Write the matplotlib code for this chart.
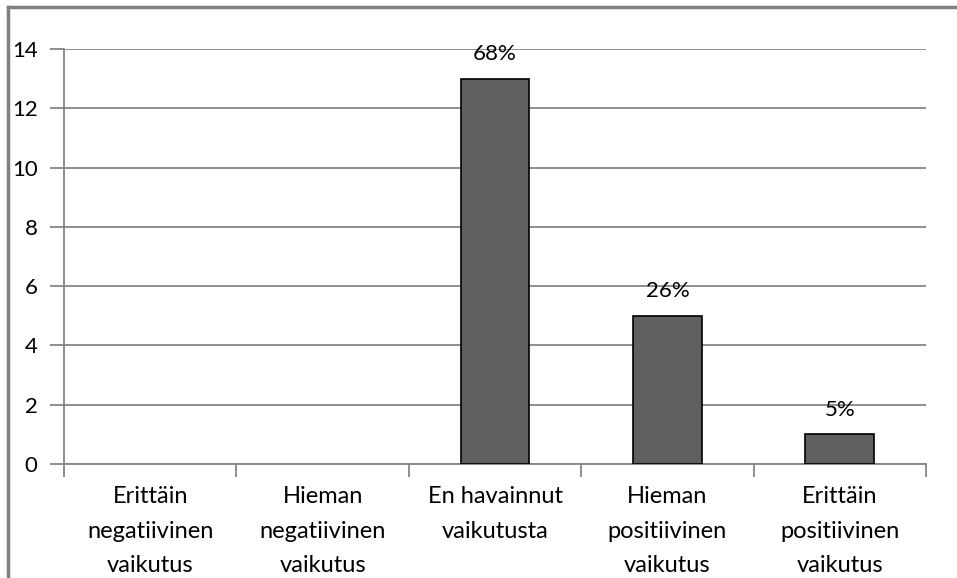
import matplotlib.pyplot as plt
from matplotlib.lines import Line2D

categories = ['Erittäin\nnegatiivinen\nvaikutus', 'Hieman\nnegatiivinen\nvaikutus',
              'En havainnut\nvaikutusta', 'Hieman\npositiivinen\nvaikutus',
              'Erittäin\npositiivinen\nvaikutus']
counts = [0, 0, 13, 5, 1]
pct_labels = ['', '', '68%', '26%', '5%']
y_ticks = [0, 2, 4, 6, 8, 10, 12, 14]

plt.rcParams['font.family'] = ['Lato', 'DejaVu Sans']
grid_c = '#868686'

fig = plt.figure(figsize=(9.57, 5.78), dpi=100)
ax = fig.add_axes([64 / 957, 1 - 464 / 578, (926 - 64) / 957, (464 - 49) / 578])

x = range(len(categories))
bars = ax.bar(x, counts, width=0.4, color='#606060', edgecolor='black', linewidth=1.2, zorder=3)
for b, lab in zip(bars, pct_labels):
    if b.get_height() == 0:
        b.set_linewidth(0)
    if lab:
        ax.text(b.get_x() + b.get_width() / 2, b.get_height() + 0.5, lab,
                ha='center', va='bottom', fontsize=16, color='black')

ax.set_xlim(-0.5, len(categories) - 0.5)
ax.set_ylim(0, 14)
ax.set_yticks(y_ticks)
ax.set_yticklabels([str(v) for v in y_ticks], fontsize=16)
ax.yaxis.grid(True, color=grid_c, linewidth=1.3, zorder=0)
ax.set_axisbelow(True)

ax.set_xticks(list(x))
ax.set_xticklabels(categories, fontsize=17, linespacing=1.8)
ax.set_xticks([i - 0.5 for i in range(len(categories) + 1)], minor=True)
ax.tick_params(axis='x', which='major', length=0, pad=16)
ax.tick_params(axis='x', which='minor', length=9, width=1.3, color=grid_c, direction='out')
ax.tick_params(axis='y', length=10, width=1.3, color=grid_c, pad=9)

for side in ['top', 'right']:
    ax.spines[side].set_visible(False)
for side in ['left', 'bottom']:
    ax.spines[side].set_color(grid_c)
    ax.spines[side].set_linewidth(1.3)

# outer frame (left and top edges visible)
fig.add_artist(Line2D([8 / 957, 8 / 957], [0, 1 - 6.5 / 578], color='#808080', linewidth=2.5,
                      transform=fig.transFigure))
fig.add_artist(Line2D([8 / 957, 1], [1 - 6.5 / 578, 1 - 6.5 / 578], color='#808080', linewidth=2.5,
                      transform=fig.transFigure))

fig.savefig('out.png', dpi=100)
